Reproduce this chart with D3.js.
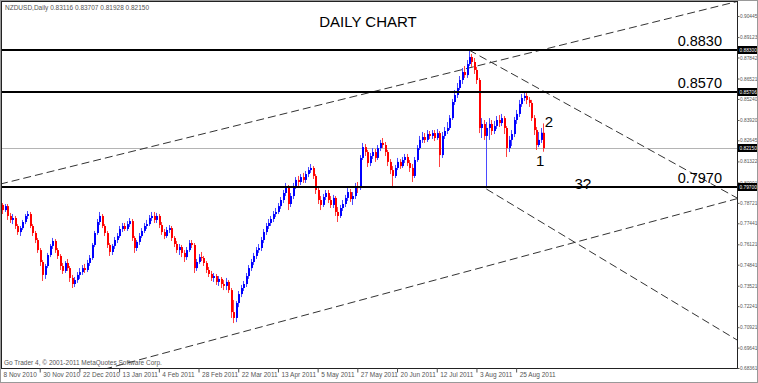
<!DOCTYPE html>
<html>
<head>
<meta charset="utf-8">
<script src="https://cdn.jsdelivr.net/npm/d3@7"></script>
<style>
body { margin: 0; background: #fff; }
svg { display: block; font-family: "Liberation Sans", Arial, sans-serif; }
</style>
</head>
<body>
<svg id="chart" width="758" height="383"></svg>
<script>
// NZDUSD daily bars, 8 Nov 2010 -> 9 Sep 2011 (one entry per trading day)
var opens = [
0.7922,0.7859,0.7827,0.7852,0.7790,0.7765,0.7777,0.7727,0.7689,0.7714,0.7752,0.7790,0.7802,0.7727,0.7683,0.7639,0.7576,0.7501,0.7420,0.7476,
0.7545,0.7602,0.7633,0.7576,0.7539,0.7476,0.7445,0.7495,0.7463,0.7401,0.7363,0.7388,0.7420,0.7438,0.7463,0.7451,0.7495,0.7526,0.7608,0.7683,
0.7752,0.7790,0.7727,0.7683,0.7608,0.7564,0.7602,0.7639,0.7664,0.7708,0.7727,0.7708,0.7739,0.7758,0.7652,0.7589,0.7627,0.7664,0.7696,0.7727,
0.7739,0.7777,0.7790,0.7765,0.7790,0.7733,0.7689,0.7664,0.7702,0.7714,0.7652,0.7614,0.7576,0.7595,0.7558,0.7532,0.7576,0.7620,0.7608,0.7463,
0.7501,0.7532,0.7526,0.7495,0.7451,0.7426,0.7401,0.7413,0.7376,0.7395,0.7363,0.7351,0.7376,0.7325,0.7187,0.7150,0.7244,0.7300,0.7338,0.7363,
0.7413,0.7463,0.7501,0.7539,0.7576,0.7589,0.7639,0.7689,0.7727,0.7746,0.7771,0.7802,0.7815,0.7852,0.7890,0.7934,0.7972,0.7865,0.7915,0.7978,
0.8016,0.8003,0.8034,0.8016,0.8053,0.8078,0.8091,0.8041,0.7953,0.7890,0.7859,0.7909,0.7934,0.7890,0.7859,0.7903,0.7815,0.7790,0.7840,0.7865,
0.7903,0.7940,0.7896,0.7915,0.7978,0.7965,0.8154,0.8222,0.8191,0.8122,0.8166,0.8191,0.8154,0.8216,0.8248,0.8235,0.8191,0.8129,0.8078,0.8041,
0.8091,0.8129,0.8103,0.8141,0.8160,0.8122,0.8091,0.8041,0.8141,0.8216,0.8267,0.8285,0.8267,0.8304,0.8292,0.8310,0.8279,0.8310,0.8172,0.8292,
0.8323,0.8342,0.8404,0.8505,0.8549,0.8593,0.8643,0.8693,0.8674,0.8743,0.8787,0.8756,0.8706,0.8643,0.8342,0.8367,0.8292,0.8342,0.8367,0.8323,
0.8354,0.8392,0.8373,0.8404,0.8342,0.8216,0.8267,0.8304,0.8392,0.8430,0.8492,0.8530,0.8543,0.8518,0.8499,0.8404,0.8329,0.8235,0.8267,0.83116
];
var highs = [
0.7934,0.7871,0.7865,0.7865,0.7809,0.7802,0.7790,0.7739,0.7727,0.7765,0.7802,0.7821,0.7815,0.7739,0.7696,0.7652,0.7589,0.7514,0.7489,0.7558,
0.7614,0.7652,0.7645,0.7589,0.7551,0.7495,0.7507,0.7520,0.7476,0.7420,0.7407,0.7438,0.7463,0.7482,0.7489,0.7514,0.7545,0.7620,0.7696,0.7771,
0.7815,0.7802,0.7739,0.7696,0.7620,0.7614,0.7658,0.7683,0.7727,0.7746,0.7746,0.7758,0.7777,0.7771,0.7664,0.7639,0.7683,0.7714,0.7746,0.7765,
0.7796,0.7815,0.7815,0.7809,0.7802,0.7752,0.7708,0.7721,0.7733,0.7727,0.7664,0.7633,0.7614,0.7608,0.7576,0.7595,0.7639,0.7639,0.7620,0.7520,
0.7551,0.7564,0.7539,0.7507,0.7470,0.7445,0.7432,0.7426,0.7413,0.7407,0.7388,0.7401,0.7388,0.7338,0.7263,0.7256,0.7319,0.7357,0.7382,0.7432,
0.7482,0.7520,0.7558,0.7595,0.7614,0.7658,0.7708,0.7746,0.7771,0.7790,0.7821,0.7840,0.7871,0.7909,0.7953,0.7997,0.7984,0.7934,0.7997,0.8034,
0.8041,0.8053,0.8060,0.8072,0.8097,0.8116,0.8103,0.8053,0.7965,0.7915,0.7928,0.7953,0.7953,0.7915,0.7922,0.7915,0.7846,0.7859,0.7890,0.7922,
0.7965,0.7959,0.7940,0.7997,0.8003,0.8172,0.8248,0.8241,0.8204,0.8185,0.8216,0.8210,0.8235,0.8267,0.8279,0.8254,0.8204,0.8147,0.8103,0.8110,
0.8154,0.8147,0.8160,0.8179,0.8179,0.8141,0.8116,0.8160,0.8235,0.8292,0.8317,0.8310,0.8329,0.8323,0.8329,0.8329,0.8335,0.8323,0.8317,0.8348,
0.8379,0.8423,0.8524,0.8580,0.8624,0.8668,0.8718,0.8731,0.8768,0.8831,0.8806,0.8781,0.8725,0.8656,0.8404,0.8392,0.8379,0.8404,0.8392,0.8386,
0.8417,0.8423,0.8430,0.8417,0.8354,0.8292,0.8329,0.8411,0.8455,0.8518,0.8555,0.8568,0.8561,0.8536,0.8518,0.8423,0.8348,0.8317,0.8342,0.83707
];
var lows = [
0.7840,0.7802,0.7815,0.7765,0.7746,0.7739,0.7708,0.7671,0.7664,0.7702,0.7739,0.7771,0.7714,0.7664,0.7620,0.7558,0.7476,0.7382,0.7395,0.7463,
0.7532,0.7583,0.7558,0.7520,0.7451,0.7426,0.7432,0.7445,0.7376,0.7338,0.7344,0.7370,0.7395,0.7420,0.7432,0.7438,0.7476,0.7514,0.7595,0.7671,
0.7733,0.7714,0.7664,0.7589,0.7539,0.7545,0.7583,0.7620,0.7652,0.7689,0.7696,0.7696,0.7721,0.7633,0.7558,0.7570,0.7608,0.7652,0.7683,0.7708,
0.7727,0.7758,0.7746,0.7746,0.7714,0.7671,0.7645,0.7652,0.7683,0.7633,0.7595,0.7558,0.7545,0.7532,0.7501,0.7514,0.7564,0.7589,0.7432,0.7445,
0.7489,0.7507,0.7476,0.7432,0.7407,0.7382,0.7376,0.7357,0.7351,0.7338,0.7325,0.7325,0.7307,0.7150,0.7118,0.7124,0.7218,0.7281,0.7319,0.7344,
0.7395,0.7445,0.7482,0.7520,0.7558,0.7570,0.7620,0.7671,0.7708,0.7727,0.7752,0.7783,0.7802,0.7834,0.7871,0.7915,0.7827,0.7846,0.7896,0.7959,
0.7978,0.7984,0.7997,0.7997,0.8034,0.8060,0.8022,0.7928,0.7865,0.7827,0.7846,0.7890,0.7871,0.7840,0.7840,0.7790,0.7752,0.7777,0.7821,0.7846,
0.7884,0.7878,0.7859,0.7896,0.7934,0.7953,0.8141,0.8166,0.8097,0.8103,0.8147,0.8129,0.8141,0.8197,0.8216,0.8166,0.8103,0.8053,0.7965,0.8028,
0.8078,0.8085,0.8091,0.8122,0.8103,0.8066,0.8003,0.8028,0.8129,0.8204,0.8248,0.8248,0.8254,0.8273,0.8273,0.8260,0.8267,0.8097,0.8154,0.8273,
0.8304,0.8329,0.8392,0.8486,0.8530,0.8580,0.8618,0.8656,0.8656,0.8731,0.8725,0.8681,0.8618,0.8310,0.8279,0.8267,0.7965,0.8267,0.8298,0.8304,
0.8335,0.8348,0.8354,0.8304,0.8160,0.8191,0.8229,0.8285,0.8367,0.8411,0.8474,0.8511,0.8492,0.8474,0.8386,0.8298,0.8204,0.8222,0.8248,0.81928
];
var closes = [
0.7859,0.7827,0.7852,0.7790,0.7765,0.7777,0.7727,0.7689,0.7714,0.7752,0.7790,0.7802,0.7727,0.7683,0.7639,0.7576,0.7501,0.7420,0.7476,0.7545,
0.7602,0.7633,0.7576,0.7539,0.7476,0.7445,0.7495,0.7463,0.7401,0.7363,0.7388,0.7420,0.7438,0.7463,0.7451,0.7495,0.7526,0.7608,0.7683,0.7752,
0.7790,0.7727,0.7683,0.7608,0.7564,0.7602,0.7639,0.7664,0.7708,0.7727,0.7708,0.7739,0.7758,0.7652,0.7589,0.7627,0.7664,0.7696,0.7727,0.7739,
0.7777,0.7790,0.7765,0.7790,0.7733,0.7689,0.7664,0.7702,0.7714,0.7652,0.7614,0.7576,0.7595,0.7558,0.7532,0.7576,0.7620,0.7608,0.7463,0.7501,
0.7532,0.7526,0.7495,0.7451,0.7426,0.7401,0.7413,0.7376,0.7395,0.7363,0.7351,0.7376,0.7325,0.7187,0.7150,0.7244,0.7300,0.7338,0.7363,0.7413,
0.7463,0.7501,0.7539,0.7576,0.7589,0.7639,0.7689,0.7727,0.7746,0.7771,0.7802,0.7815,0.7852,0.7890,0.7934,0.7972,0.7865,0.7915,0.7978,0.8016,
0.8003,0.8034,0.8016,0.8053,0.8078,0.8091,0.8041,0.7953,0.7890,0.7859,0.7909,0.7934,0.7890,0.7859,0.7903,0.7815,0.7790,0.7840,0.7865,0.7903,
0.7940,0.7896,0.7915,0.7978,0.7965,0.8154,0.8222,0.8191,0.8122,0.8166,0.8191,0.8154,0.8216,0.8248,0.8235,0.8191,0.8129,0.8078,0.8041,0.8091,
0.8129,0.8103,0.8141,0.8160,0.8122,0.8091,0.8041,0.8141,0.8216,0.8267,0.8285,0.8267,0.8304,0.8292,0.8310,0.8279,0.8310,0.8172,0.8292,0.8323,
0.8342,0.8404,0.8505,0.8549,0.8593,0.8643,0.8693,0.8674,0.8743,0.8787,0.8756,0.8706,0.8643,0.8342,0.8367,0.8292,0.8342,0.8367,0.8323,0.8354,
0.8392,0.8373,0.8404,0.8342,0.8216,0.8267,0.8304,0.8392,0.8430,0.8492,0.8530,0.8543,0.8518,0.8499,0.8404,0.8329,0.8235,0.8267,0.8312,0.82150
];

// time axis (bar index of each date label)
var dateTickBars = [0,16,32,48,64,80,96,112,128,144,160,176,192,208];
var dateLabels = ["8 Nov 2010","30 Nov 2010","22 Dec 2010","13 Jan 2011","4 Feb 2011","28 Feb 2011","22 Mar 2011",
  "13 Apr 2011","5 May 2011","27 May 2011","20 Jun 2011","12 Jul 2011","3 Aug 2011","25 Aug 2011"];

// price axis
var priceTicks = [0.90445,0.89123,0.87842,0.86521,0.85240,0.83920,0.82645,0.81322,0.80001,
  0.78721,0.77441,0.76121,0.74841,0.73521,0.72241,0.70921,0.69641,0.68361];
var markedPrices = [0.88300,0.85706,0.82150,0.79700];

// horizontal levels
var levels = [0.8830,0.8570,0.7970];
var levelNames = ["0.8830","0.8570","0.7970"];
var lastPrice = 0.82150;

// trend lines: [bar, price] -> [bar, price]
var trendFrom = [[169.4,0.8643],[100.8,0.7075],[189.0,0.8831],[196.0,0.7959]];
var trendTo   = [[229.8,0.8876],[193.5,0.7464],[297,0.7903],[297,0.7012]];
var trendLeft = [true,true,false,false];

// wave counts
var waveText = ["2","1","3?"];
var waveBar = [219.5,216.0,231.5];
var wavePrice = [0.8348,0.8104,0.7959];

var header = "NZDUSD,Daily  0.83116 0.83707 0.81928 0.82150";

// ---- layout
var W = 758, H = 383;
var plotL = 1, plotR = 737, plotT = 1, plotB = 368;

var svg = d3.select("#chart");

var x = d3.scaleLinear().domain([0, 297]).range([0, plotR]);
var y = d3.scaleLinear().domain([0.68361, 0.90445]).range([368, 16]);

svg.append("defs").append("clipPath").attr("id", "plot")
  .append("rect").attr("x", plotL).attr("y", plotT)
  .attr("width", plotR - plotL).attr("height", plotB - plotT);

svg.append("rect").attr("width", W).attr("height", H).attr("fill", "#fff");

var plot = svg.append("g").attr("clip-path", "url(#plot)");

// current price line
plot.append("line")
  .attr("x1", plotL).attr("x2", plotR)
  .attr("y1", Math.round(y(lastPrice)) + 0.5).attr("y2", Math.round(y(lastPrice)) + 0.5)
  .attr("stroke", "#b4b4b4").attr("stroke-width", 1);

// trend lines
trendFrom.forEach(function(a, k) {
  var b = trendTo[k];
  var slope = (b[1] - a[1]) / (b[0] - a[0]);
  var x0 = trendLeft[k] ? 0 : a[0];
  var x1 = 297;
  plot.append("line")
    .attr("x1", x(x0)).attr("y1", y(a[1] + slope * (x0 - a[0])))
    .attr("x2", x(x1)).attr("y2", y(a[1] + slope * (x1 - a[0])))
    .attr("stroke", "#333").attr("stroke-width", 1)
    .attr("stroke-dasharray", "8,4");
});

// candles
var bars = d3.range(opens.length);
var candle = plot.selectAll("g.bar").data(bars).enter().append("g")
  .attr("class", "bar");

candle.append("line")
  .attr("x1", function(i){ return Math.round(x(i)) + 0.5; })
  .attr("x2", function(i){ return Math.round(x(i)) + 0.5; })
  .attr("y1", function(i){ return y(highs[i]); })
  .attr("y2", function(i){ return y(lows[i]); })
  .attr("stroke", function(i){ return closes[i] >= opens[i] ? "#4a4aff" : "#ff4040"; })
  .attr("stroke-width", 1);

candle.append("rect")
  .attr("x", function(i){ return Math.round(x(i)); })
  .attr("width", 2)
  .attr("y", function(i){ return y(Math.max(opens[i], closes[i])); })
  .attr("height", function(i){ return Math.max(1, Math.abs(y(opens[i]) - y(closes[i]))); })
  .attr("fill", function(i){ return closes[i] >= opens[i] ? "#0000ff" : "#ff0000"; });

// support / resistance levels
plot.selectAll("line.level").data(levels).enter().append("line")
  .attr("class", "level")
  .attr("x1", plotL).attr("x2", plotR)
  .attr("y1", function(d){ return Math.round(y(d)); })
  .attr("y2", function(d){ return Math.round(y(d)); })
  .attr("stroke", "#000").attr("stroke-width", 2);

svg.selectAll("text.level").data(levels).enter().append("text")
  .attr("class", "level")
  .attr("x", plotR - 15)
  .attr("y", function(d){ return Math.round(y(d)) - 4; })
  .attr("text-anchor", "end")
  .attr("font-size", 14.5)
  .attr("fill", "#000")
  .text(function(d, k){ return levelNames[k]; });

svg.selectAll("text.wave").data(waveText).enter().append("text")
  .attr("class", "wave")
  .attr("x", function(d, k){ return x(waveBar[k]); })
  .attr("y", function(d, k){ return y(wavePrice[k]); })
  .attr("font-size", 15)
  .attr("fill", "#000")
  .text(function(d){ return d; });

svg.append("text")
  .attr("x", 368).attr("y", 27)
  .attr("text-anchor", "middle")
  .attr("font-size", 15)
  .attr("fill", "#000")
  .text("DAILY CHART");

svg.append("text")
  .attr("x", 5).attr("y", 10)
  .attr("font-size", 6.5)
  .attr("fill", "#555")
  .text(header);

svg.append("text")
  .attr("x", 4).attr("y", 365)
  .attr("font-size", 6.5)
  .attr("fill", "#555")
  .text("Go Trader 4, \u00a9 2001-2011 MetaQuotes Software Corp.");

// frame
svg.append("rect")
  .attr("x", plotL + 0.5).attr("y", plotT + 0.5)
  .attr("width", plotR - plotL).attr("height", plotB - plotT)
  .attr("fill", "none").attr("stroke", "#222").attr("stroke-width", 1);

// price axis
var yAxis = d3.axisRight(y).tickValues(priceTicks).tickSize(2)
  .tickFormat(function(d){ return d.toFixed(5); });
var ya = svg.append("g")
  .attr("transform", "translate(" + (plotR + 0.5) + ",0)")
  .call(yAxis);
ya.select(".domain").remove();
ya.selectAll("line").attr("stroke", "#555");
ya.selectAll("text").attr("font-size", 4.8).attr("fill", "#555")
  .attr("x", 2.5)
  .attr("font-family", "Liberation Sans, Arial, sans-serif");

var marks = svg.selectAll("g.mark").data(markedPrices).enter().append("g")
  .attr("class", "mark")
  .attr("transform", function(d){ return "translate(" + (plotR + 1) + "," + Math.round(y(d)) + ")"; });
marks.append("rect").attr("x", 0).attr("y", -4).attr("width", W - plotR).attr("height", 8).attr("fill", "#000");
marks.append("text").attr("x", 1.5).attr("y", 2)
  .attr("font-size", 4.8).attr("fill", "#fff")
  .text(function(d){ return d.toFixed(5); });

// time axis
var xAxis = d3.axisBottom(x).tickValues(dateTickBars).tickSize(4)
  .tickFormat(function(d, k){ return dateLabels[k]; });
var xa = svg.append("g")
  .attr("transform", "translate(0," + (plotB + 0.5) + ")")
  .call(xAxis);
xa.select(".domain").remove();
xa.selectAll("line").attr("stroke", "#555");
xa.selectAll("text").attr("font-size", 6.5).attr("fill", "#555")
  .attr("text-anchor", "start").attr("x", 3).attr("y", 4)
  .attr("font-family", "Liberation Sans, Arial, sans-serif");

// outer border
svg.append("rect").attr("x", 0.5).attr("y", 0.5).attr("width", W - 1).attr("height", H - 1)
  .attr("fill", "none").attr("stroke", "#999");
</script>
</body>
</html>
